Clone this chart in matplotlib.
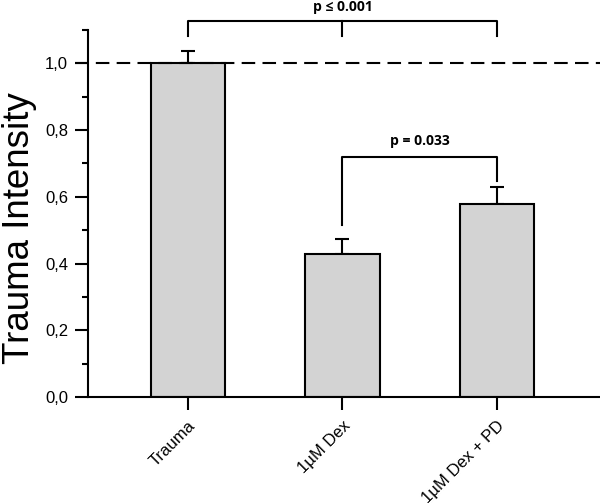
import numpy as np
import matplotlib.pyplot as plt
from matplotlib.ticker import MultipleLocator, FuncFormatter

plt.rcParams['font.family'] = ['Liberation Sans', 'DejaVu Sans']

groups = ['Trauma', '1µM Dex', '1µM Dex + PD']
means = [1.0, 0.429, 0.577]
errs = [0.036, 0.045, 0.051]

fig = plt.figure(figsize=(6, 5.03), dpi=100)
ax = fig.add_axes([0.1467, 0.2107, 0.8533, 0.7297])

x = np.arange(len(groups))
ax.bar(x, means, width=0.48, color='#d3d3d3', edgecolor='black', linewidth=1.5, zorder=2)
ax.errorbar(x, means, yerr=[np.zeros(3), errs], fmt='none', ecolor='black',
            elinewidth=1.5, capsize=4.7, capthick=1.5, zorder=1)

# reference line at 1.0
ax.plot([-0.73, 2.667], [1.0, 1.0], color='black', lw=1.5, dashes=(6.5, 3.5),
        clip_on=False, zorder=3)

ax.set_xlim(-0.647, 2.667)
ax.set_ylim(0, 1.1)
ax.yaxis.set_major_locator(MultipleLocator(0.2))
ax.yaxis.set_minor_locator(MultipleLocator(0.1))
ax.yaxis.set_major_formatter(FuncFormatter(lambda v, p: f'{v:.1f}'.replace('.', ',')))
ax.set_xticks(x)
ax.set_xticklabels(groups, rotation=45, ha='right', rotation_mode='anchor', fontsize=12)
ax.tick_params(axis='y', which='major', direction='out', length=9.4, width=1.5, labelsize=12, pad=5)
ax.tick_params(axis='y', which='minor', direction='out', length=4.5, width=1.5)
ax.tick_params(axis='x', direction='out', length=9.4, width=1.5, pad=6)

for s in ['top', 'right']:
    ax.spines[s].set_visible(False)
ax.spines['left'].set_linewidth(1.5)
ax.spines['bottom'].set_linewidth(1.5)

ax.set_ylabel('Trauma Intensity', fontsize=26.5)
ax.yaxis.set_label_coords(-0.1, 0.46)

# significance brackets
ax.plot([0, 0, 2, 2], [1.081, 1.126, 1.126, 1.081], color='black', lw=1.5, clip_on=False)
ax.plot([1, 1], [1.126, 1.083], color='black', lw=1.5, clip_on=False)
ax.text(1, 1.168, 'p ≤ 0.001', ha='center', va='center', fontsize=10,
        fontweight='bold', family=['Open Sans', 'DejaVu Sans'])

ax.plot([1, 1, 2, 2], [0.517, 0.718, 0.718, 0.646], color='black', lw=1.5)
ax.text(1.5, 0.766, 'p = 0.033', ha='center', va='center', fontsize=10,
        fontweight='bold', family=['Open Sans', 'DejaVu Sans'])

fig.savefig('out.png', dpi=100)
